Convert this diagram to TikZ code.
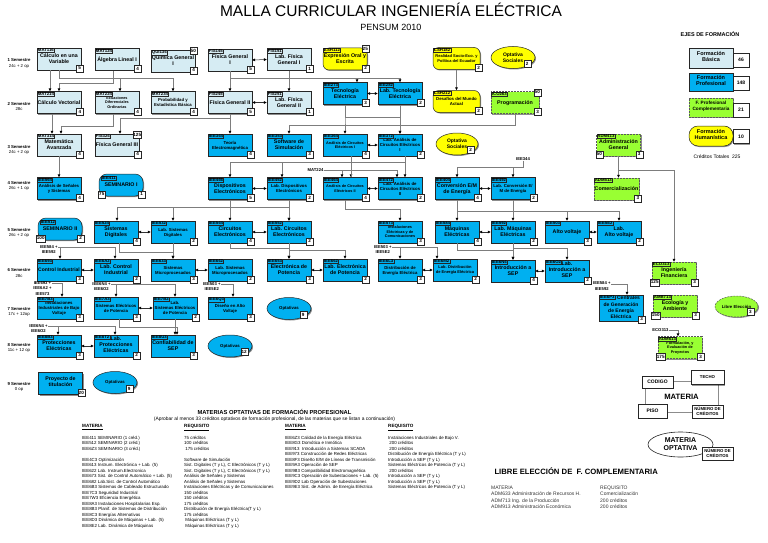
\documentclass[tikz,border=0pt]{standalone}
\usepackage{fontspec}
\setmainfont{Liberation Sans}
\usetikzlibrary{arrows.meta,shapes.geometric,shadows}
\definecolor{basica}{RGB}{214,236,243}
\definecolor{profesional}{RGB}{0,176,240}
\definecolor{complementaria}{RGB}{153,255,51}
\definecolor{humanistica}{RGB}{255,255,0}
\definecolor{linea}{RGB}{125,125,125}
\newcommand{\tam}[2]{\fontsize{#1}{#2}\selectfont}
\tikzset{
  mat/.style={draw=black!85,line width=.5pt,minimum width=44pt,minimum height=22pt,inner sep=.8pt,align=center,
    font=\tam{5.3}{6}\bfseries,drop shadow={shadow xshift=1pt,shadow yshift=-1pt,fill=black,opacity=.45}},
  caja/.style={mat,text depth=-7pt},
  uno/.style={text depth=-4.3pt},
  tres/.style={text depth=2pt},
  bas/.style={caja,fill=basica},
  pro/.style={caja,fill=profesional},
  compl/.style={caja,fill=complementaria,draw=black!65,dash pattern=on 2pt off 1pt},
  hum/.style={caja,fill=humanistica,rounded corners=6pt},
  sem/.style={pro,uno,rounded corners=8pt},
  optat/.style={mat,ellipse,fill=profesional,inner sep=0pt,font=\tam{4.3}{5}\bfseries},
  hopt/.style={optat,fill=humanistica,font=\tam{5}{6}\bfseries},
  libre/.style={optat,fill=complementaria,draw=black!65,dash pattern=on 2pt off 1pt},
  codebox/.style={anchor=north west,draw=black!85,solid,inner sep=.5pt,font=\tam{4.3}{4.4}\bfseries,xshift=.5pt,yshift=-.5pt},
  numbox/.style={anchor=center,draw=black!85,solid,fill=white,inner sep=.6pt,minimum width=7pt,minimum height=7pt,
    font=\tam{4.6}{5}\bfseries,drop shadow={shadow xshift=.8pt,shadow yshift=-.8pt,fill=black,opacity=.4}},
  cod/.style={label={[codebox]north west:#1}},
  codsem/.style={label={[codebox,xshift=2pt,yshift=-1.5pt]north west:#1}},
  cr/.style={label={[numbox,xshift=-1.5pt,yshift=2pt]south east:#1}},
  techo/.style={label={[numbox,xshift=-2pt,yshift=-1pt]north east:#1}},
  piso/.style={label={[numbox,xshift=3pt,yshift=2pt]south west:#1}},
  chico/.style={font=\tam{4.3}{5}\bfseries,text depth=-4pt},
  mini/.style={font=\tam{3.8}{4.4}\bfseries,text depth=-5pt},
  conn/.style={draw=linea,line width=.6pt},
  coreq/.style={<->,draw=black!80,line width=.5pt},
  req/.style={font=\tam{4.2}{5.4}\bfseries,align=center,inner sep=.3pt},
  semestre/.style={font=\tam{4.3}{5.4},align=center},
  legnum/.style={draw=black!85,fill=white,minimum width=16pt,minimum height=14pt,font=\tam{5}{6}\bfseries,
    drop shadow={shadow xshift=1pt,shadow yshift=-1pt,fill=black,opacity=.4}},
  legsm/.style={draw=black!85,fill=white,inner sep=.5pt,align=center,font=\tam{4.3}{4.8}\bfseries,
    drop shadow={shadow xshift=1pt,shadow yshift=-1pt,fill=black,opacity=.4}},
  lista/.style={anchor=north west,inner sep=0pt,align=left,font=\tam{4.4}{5.5}},
}
\begin{document}
\begin{tikzpicture}[x=1pt,y=-1pt,>={Triangle[length=2.8pt,width=2.6pt,color=black]}]
\useasboundingbox (0,0) rectangle (768,543);
\node[font=\tam{15.5}{17},anchor=base] (titulo) at (391,17) {MALLA CURRICULAR INGENIERÍA ELÉCTRICA};
\node[font=\tam{9}{10},anchor=base] (pensum) at (391,30.5) {PENSUM 2010};
\node[font=\tam{5.5}{6}\bfseries,anchor=base] (ejes) at (710,37) {EJES DE FORMACIÓN};

\node[semestre] (s1) at (19,63.5) {\textbf{1 Semestre}\\24c + 2 op};
\node[semestre] (s2) at (19,106.5) {\textbf{2 Semestre}\\28c};
\node[semestre] (s3) at (19,150) {\textbf{3 Semestre}\\24c + 2 op};
\node[semestre] (s4) at (19,186) {\textbf{4 Semestre}\\26c + 1 op};
\node[semestre] (s5) at (19,233) {\textbf{5 Semestre}\\26c + 2 op};
\node[semestre] (s6) at (19,273) {\textbf{6 Semestre}\\28c};
\node[semestre] (s7) at (19,312) {\textbf{7 Semestre}\\17c + 12op};
\node[semestre] (s8) at (19,348) {\textbf{8 Semestre}\\11c + 12 op};
\node[semestre] (s9) at (19,387) {\textbf{9 Semestre}\\0 op};

\node[bas,cod=MAT116,cr=5] (MAT116) at (59,59) {Cálculo en una\\Variable};
\node[bas,uno,cod=MAT124,cr=4] (MAT124) at (117,59.5) {Álgebra Lineal I};
\node[bas,cod=QUI134,cr=4,techo=50] (QUI134) at (173,61) {Química General\\I};
\node[bas,cod=FIS145,cr=5] (FIS145) at (230,60) {Física General\\I};
\node[bas,cod=FIS151,cr=1] (FIS151) at (289,59.5) {Lab. Física\\General I};
\node[hum,cod=CSH112,cr=2,techo=25] (CSH112) at (345,59) {Expresión Oral y\\Escrita};
\node[hum,chico,font=\tam{4}{5}\bfseries,minimum width=47pt,cod=CSH182,cr=2] (CSH182) at (456.5,58.5) {Realidad Socio-Eco. y\\Política del Ecuador};
\node[hopt,cr=2] (OPS1) at (513,57.5) {Optativa\\Sociales};

\node[bas,uno,cod=MAT214,cr=4] (MAT214) at (59,102.5) {Cálculo Vectorial};
\node[bas,mini,cod=MAT224,cr=4] (MAT224) at (117,102.5) {Ecuaciones\\Diferenciales\\Ordinarias};
\node[bas,chico,cod=MAT234,cr=4] (MAT234) at (173,102.5) {Probabilidad y\\Estadística Básica};
\node[bas,uno,cod=FIS245,cr=5] (FIS245) at (230,102.5) {Física General II};
\node[bas,cod=FIS251,cr=1] (FIS251) at (289,102.5) {Lab. Física\\General II};
\node[pro,cod=IEE273,cr=3] (IEE273) at (345,93.5) {Tecnología\\Eléctrica};
\node[pro,cod=IEE282,cr=2] (IEE282) at (400,93.5) {Lab. Tecnología\\Eléctrica};
\node[hum,chico,minimum width=47pt,cod=CSH212,cr=2] (CSH212) at (456.5,101.5) {Desafíos del Mundo\\Actual};
\node[compl,uno,minimum width=48pt,cod=ICO263,cr=3,techo=50] (ICO263) at (515,102.5) {Programación};

\node[bas,cod=MAT314,cr=4] (MAT314) at (59,145) {Matemática\\Avanzada};
\node[bas,uno,cod=FIS324,cr=4,techo=125] (FIS324) at (117,145) {Física General III};
\node[pro,chico,cod=IEE344,cr=4] (IEE344) at (230,145) {Teoría\\Electromagnética};
\node[pro,cod=IEE353,cr=3] (IEE353) at (289,145) {Software de\\Simulación};
\node[pro,mini,cod=IEE364,cr=4] (IEE364) at (345,145) {Análisis de Circuitos\\Eléctricos I};
\node[pro,chico,cod=IEE372,cr=2] (IEE372) at (400,145) {Lab. Análisis de\\Circuitos Eléctricos\\I};
\node[hopt,minimum width=42pt,cr=2] (OPS3) at (457,144) {Optativa\\Sociales};
\node[compl,cod=ADM413,cr=3,piso=50] (ADM413) at (618.5,145) {Administración\\General};

\node[pro,chico,cod=IEE564,cr=4] (IEE564) at (59,188.5) {Análisis de Señales\\y Sistemas};
\node[sem,codsem=IEE411,cr=1,piso=75] (IEE411) at (121,185) {SEMINARIO I};
\node[pro,cod=IEE446,cr=5] (IEE446) at (230,188.5) {Dispositivos\\Electrónicos};
\node[pro,chico,cod=IEE452,cr=2] (IEE452) at (289,188.5) {Lab. Dispositivos\\Electrónicos};
\node[pro,mini,cod=IEE464,cr=4] (IEE464) at (345,188.5) {Análisis de Circuitos\\Eléctricos II};
\node[pro,chico,cod=IEE472,cr=2] (IEE472) at (400,188.5) {Lab. Análisis de\\Circuitos Eléctricos\\II};
\node[pro,cod=IEE404,cr=4] (IEE404) at (457,188.5) {Conversión E/M\\de Energía};
\node[pro,chico,cod=IEE492,cr=2] (IEE492) at (513,188.5) {Lab. Conversión E/\\M de Energía};
\node[compl,uno,cod=ADM513,cr=3] (ADM513) at (616.5,189) {Comercialización};

\node[sem,codsem=IEE512,cr=2,piso=100] (IEE512) at (60,229) {SEMINARIO II};
\node[pro,cod=IEE524,cr=4] (IEE524) at (116,232) {Sistemas\\Digitales};
\node[pro,chico,cod=IEE532,cr=2] (IEE532) at (173,232) {Lab. Sistemas\\Digitales};
\node[pro,cod=IEE544,cr=4] (IEE544) at (230,232) {Circuitos\\Electrónicos};
\node[pro,cod=IEE552,cr=2] (IEE552) at (289,232) {Lab. Circuitos\\Electrónicos};
\node[pro,mini,cod=IEE573,cr=3] (IEE573) at (400,232) {Instalaciones\\Eléctricas y de\\Comunicaciones};
\node[pro,cod=IEE584,cr=4] (IEE584) at (457,232) {Máquinas\\Eléctricas};
\node[pro,cod=IEE592,cr=2] (IEE592) at (513,232) {Lab. Máquinas\\Eléctricas};
\node[pro,uno,cod=IEE503,cr=3] (IEE503) at (567,232) {Alto voltaje};
\node[pro,cod=IEE5E2,cr=2] (IEE5E2) at (619,232) {Lab.\\Alto voltaje};

\node[pro,uno,font=\tam{5}{6}\bfseries,cod=IEE693,cr=3] (IEE693) at (59,270) {Control Industrial};
\node[pro,cod=IEE6A2,cr=2] (IEE6A2) at (116,270) {Lab. Control\\Industrial};
\node[pro,chico,cod=IEE633,cr=3] (IEE633) at (173,270) {Sistemas\\Microprocesados};
\node[pro,chico,cod=IEE642,cr=2] (IEE642) at (230,270) {Lab. Sistemas\\Microprocesados};
\node[pro,cod=IEE653,cr=3] (IEE653) at (289,270) {Electrónica de\\Potencia};
\node[pro,cod=IEE662,cr=2] (IEE662) at (345,270) {Lab. Electrónica\\de Potencia};
\node[pro,chico,cod=IEE6L3,cr=3] (IEE6L3) at (400,270) {Distribución de\\Energía Eléctrica};
\node[pro,chico,font=\tam{4}{5}\bfseries,cod=IEE6M2,cr=2] (IEE6M2) at (455,270) {Lab. Distribución\\de Energía Eléctrica};
\node[pro,cod=IEE6N4,cr=4] (IEE6N4) at (513,271) {Introducción a\\SEP};
\node[pro,tres,cod=IEE6O2,cr=2] (IEE6O2) at (567,271) {Lab.\\Introducción a\\SEP};
\node[compl,cod=ECO313,cr=3,piso=125] (ECO313) at (674,273) {Ingeniería\\Financiera};

\node[pro,chico,cod=IEE7B3,cr=3] (IEE7B3) at (59,308) {Instalaciones\\Industriales de Bajo\\Voltaje};
\node[pro,chico,cod=IEE7A3,cr=3] (IEE7A3) at (116,308) {Sistemas Eléctricos\\de Potencia};
\node[pro,chico,cod=IEE7B2,cr=2] (IEE7B2) at (175,308) {Lab.\\Sistemas Eléctricos\\de Potencia};
\node[pro,chico,cod=IEE6Q3,cr=3] (IEE6Q3) at (230,308) {Diseño en Alto\\Voltaje};
\node[optat,cr=9] (OPT7) at (289,308.5) {Optativas};
\node[pro,font=\tam{5}{6.3}\bfseries,text depth=1pt,minimum height=26pt,cod=IEE6P3,cr=3] (IEE6P3) at (621,308) {\hspace*{15pt}Centrales\\de Generación\\de Energía\\Eléctrica};
\node[compl,cod=AMB713,cr=3,piso=150] (AMB713) at (675,306) {Ecología y\\Ambiente};
\node[libre,minimum width=43pt,minimum height=21pt,cr=3] (LIBRE) at (736.5,306.5) {Libre Elección};

\node[pro,cod=IEE8B3,cr=3] (IEE8B3) at (59,346) {Protecciones\\Eléctricas};
\node[pro,tres,cod=IEE8T2,cr=2] (IEE8T2) at (116,346) {Lab.\\Protecciones\\Eléctricas};
\node[pro,cod=IEE8U3,cr=3] (IEE8U3) at (173,346) {Confiabilidad de\\SEP};
\node[optat,cr=12] (OPT8) at (230,346) {Optativas};
\node[compl,mini,cod=ADM613,cr=3,piso=175] (ADM613) at (680,347.5) {Formulación, y\\Evaluación de\\Proyectos};

\node[pro,text depth=3pt,cr=20] (PROY) at (60.5,383.5) {Proyecto de\\titulación};
\node[optat,cr=9] (OPT9) at (115,382.5) {Optativas};

\foreach \a/\b in {FIS145/FIS151,FIS245/FIS251,IEE273/IEE282,IEE364/IEE372,IEE446/IEE452,IEE464/IEE472,
  IEE404/IEE492,IEE524/IEE532,IEE544/IEE552,IEE584/IEE592,IEE503/IEE5E2,IEE693/IEE6A2,IEE633/IEE642,
  IEE653/IEE662,IEE6L3/IEE6M2,IEE6N4/IEE6O2,IEE7A3/IEE7B2,IEE8B3/IEE8T2}
  \draw[coreq] (\a.east) -- (\b.west);

\draw[conn,->] ([xshift=-9pt]MAT116.south) -- ([xshift=-9pt]MAT214.north);
\draw[conn,->] (MAT116.south) -- ++(0,8) -| ([xshift=3pt]MAT224.north);
\draw[conn,->] (MAT116.south) -- ++(0,8) -| (MAT234.north);
\draw[conn,->] ([xshift=-4pt]MAT124.south) -- ++(0,13) -| (MAT214.north);
\draw[conn,->] (FIS145.south) -- (FIS245.north);
\draw[conn,->] (FIS145.south) -- ++(0,7) -| ([xshift=12pt]IEE273.north);
\draw[conn,->] (FIS145.south) -- ++(0,7) -| (IEE282.north);
\draw[conn,->] (FIS151.south) -- (FIS251.north);
\draw[conn,->] (CSH182.south) -- (CSH212.north);

\draw[conn,->] ([xshift=-7pt]MAT214.south) -- ([xshift=-7pt]MAT314.north);
\draw[conn,->] ([xshift=-4pt]MAT224.south) -- ++(0,13) -| ([xshift=2pt]MAT314.north);
\draw[conn,->] (FIS245.south) -- (IEE344.north);
\draw[conn,->] (FIS245.south) -- ++(0,5) -| ([xshift=3pt]FIS324.north);
\draw[conn,->] (ICO263.south) -- ++(0,12) -| (IEE353.north);
\draw[conn,->] (IEE273.south) -- ++(0,13) -| (IEE364.north);
\draw[conn,->] (IEE273.south) -- ++(0,13) -| (IEE372.north);
\draw[conn,->] (IEE282.south) -- (IEE372.north);

\draw[conn,->] (MAT314.south) -- (IEE564.north);
\draw[conn,->] ([xshift=6pt]IEE364.south) -- ++(0,6) -| (IEE446.north);
\draw[conn,->] ([xshift=6pt]IEE364.south) -- ++(0,6) -| ([xshift=-7pt]IEE452.north);
\draw[conn,->] ([xshift=6pt]IEE364.south) -- ([xshift=6pt]IEE464.north);
\draw[conn,->] ([xshift=5pt]IEE372.south) -- ([xshift=5pt]IEE472.north);
\draw[conn] ([xshift=5pt]IEE372.south) -- ++(0,6) -| ([xshift=6pt]IEE464.north);
\node[req,anchor=east] (rMAT224) at (324,170) {MAT224};
\draw[conn,->] (rMAT224.east) -| ([xshift=-3pt]IEE464.north);
\draw[conn,->] (rMAT224.east) -| ([xshift=-3pt]IEE472.north);
\node[req] (rIEE344) at (523,159) {IEE344};
\draw[conn,->] (rIEE344.south) -- ++(0,6) -| (IEE404.north);
\draw[conn,->] (rIEE344.south) -- ++(0,6) -| (IEE492.north);
\draw[conn,->] (ADM413.south) -- (ADM413.south |- ADM513.north);
\draw[conn,->] (ADM413.south) -- ++(0,14) -| (ECO313.north);

\draw[conn,->] (IEE446.south) -- ++(0,8) -| ([xshift=1pt]IEE524.north);
\draw[conn,->] (IEE446.south) -- ++(0,8) -| (IEE532.north);
\draw[conn,->] (IEE446.south) -- (IEE544.north);
\draw[conn,->] (IEE446.south) -- ++(0,8) -| (IEE552.north);
\draw[conn,->] (IEE452.south) -- (IEE552.north);
\draw[conn,->] (IEE464.south) -- ++(0,10) -| (IEE573.north);
\draw[conn,->] (IEE404.south) -- (IEE584.north);
\draw[conn,->] (IEE404.south) -- ++(0,12) -| (IEE503.north);
\draw[conn,->] (IEE404.south) -- ++(0,12) -| (IEE5E2.north);
\draw[conn,->] (IEE492.south) -- (IEE592.north);

\draw[conn,->] ([xshift=3pt]IEE524.south) -- ++(0,9) -| (IEE633.north);
\draw[conn,->] (IEE532.south) -- (IEE633.north);
\draw[conn,->] (IEE544.south) -- ++(0,5) -| (IEE653.north);
\draw[conn,->] (IEE552.south) -- (IEE653.north);
\draw[conn,->] (IEE552.south) -- ++(0,7) -| (IEE662.north);
\draw[conn,->] (IEE584.south) -- ++(0,7) -| (IEE6N4.north);
\draw[conn,->] (IEE592.south) -- (IEE6N4.north);
\draw[conn,->] (IEE592.south) -- ++(0,5) -| (IEE6O2.north);
\node[req,anchor=north east] (r6a) at (58,245) {IEE584 +\\IEE592};
\draw[conn,->] ([yshift=-2.7pt]r6a.north east) -| ([xshift=1pt]IEE693.north);
\draw[conn,->] ([yshift=-2.7pt]r6a.north east) -| ([xshift=-1pt]IEE6A2.north);
\node[req,anchor=north east] (r6b) at (392,245) {IEE503 +\\IEE5E2};
\draw[conn,->] ([yshift=-2.7pt]r6b.north east) -| (IEE6L3.north);
\draw[conn,->] ([yshift=-2.7pt]r6b.north east) -| ([xshift=-18pt]IEE6M2.north);

\node[req,anchor=north east] (r7a) at (52,281) {IEE693 +\\IEE6A2 +\\IEE573};
\draw[conn,->] ([yshift=-2.7pt]r7a.north east) -| ([xshift=3pt]IEE7B3.north);
\node[req,anchor=north east] (r7b) at (111,282) {IEE6N4 +\\IEE6O2};
\draw[conn,->] ([yshift=-2.7pt]r7b.north east) -| (IEE7A3.north);
\draw[conn,->] ([yshift=-2.7pt]r7b.north east) -| (IEE7B2.north);
\node[req,anchor=north east] (r7c) at (221,282) {IEE503 +\\IEE5E2};
\draw[conn,->] ([yshift=-2.7pt]r7c.north east) -| ([xshift=3pt]IEE6Q3.north);
\node[req,anchor=north east] (r7d) at (611,281.5) {IEE584 +\\IEE592};
\draw[conn,->] ([yshift=-2.7pt]r7d.north east) -| ([xshift=6pt]IEE6P3.north);

\node[req,anchor=north east] (r8a) at (48,324) {IEE6N4 +\\IEE6O2};
\draw[conn,->] ([yshift=-2.7pt]r8a.north east) -| ([xshift=-1pt]IEE8B3.north);
\draw[conn,->] ([yshift=-2.7pt]r8a.north east) -| ([xshift=-1pt]IEE8T2.north);
\draw[conn,->] ([xshift=3pt]IEE7A3.south) -- ++(0,8) -| ([xshift=4pt]IEE8U3.north);
\draw[conn,->] (IEE7B2.south) -- (IEE7B2.south |- IEE8U3.north);
\node[req,anchor=east] (r8b) at (669,330) {ECO313};
\draw[conn,->] (r8b.east) -| ([xshift=-2pt]ADM613.north);

\node[bas,text depth=3pt,minimum height=20pt,font=\tam{5.5}{6.6}\bfseries] (legBas) at (711,58) {Formación\\Básica};
\node[legnum] (numBas) at (741,60) {46};
\node[pro,text depth=3pt,minimum height=18pt,font=\tam{5.5}{6.6}\bfseries] (legPro) at (711,82) {Formación\\Profesional};
\node[legnum] (numPro) at (741,83) {148};
\node[compl,text depth=3pt,minimum height=19pt,font=\tam{4.7}{5.6}\bfseries] (legCom) at (711,107.5) {F. Profesional\\Complementaria};
\node[legnum] (numCom) at (741,110) {21};
\node[hum,text depth=3pt,rounded corners=9pt,minimum height=20pt,font=\tam{5.5}{6.6}\bfseries] (legHum) at (711,136) {Formación\\Humanística};
\node[legnum] (numHum) at (741,136.5) {10};
\node[font=\tam{5}{6}] (total) at (717,157) {Créditos Totales\ \ 225};

\node[draw=black!45,line width=.8pt,minimum width=73pt,minimum height=31pt,inner sep=0pt,font=\tam{7.7}{8}\bfseries] (leyMat) at (681.5,396.5) {MATERIA};
\node[legsm,minimum width=31pt,minimum height=12pt,font=\tam{5}{5}\bfseries] (leyCod) at (657.5,382) {CODIGO};
\node[legsm,minimum width=33pt,minimum height=14pt] (leyTecho) at (707.5,377.5) {TECHO};
\node[legsm,minimum width=29pt,minimum height=14pt,font=\tam{5}{5}\bfseries] (leyPiso) at (652.5,411) {PISO};
\node[legsm,minimum width=31pt,minimum height=13pt] (leyNum) at (707.5,411.5) {NÚMERO DE\\CRÉDITOS};
\node[ellipse,draw=black!85,line width=.6pt,minimum width=65pt,minimum height=25pt,inner sep=0pt,align=center,font=\tam{7}{8}\bfseries] (leyOpt) at (680.5,444.5) {MATERIA\\OPTATIVA};
\node[legsm,minimum width=31pt,minimum height=13pt] (leyNum2) at (717.5,453.5) {NÚMERO DE\\CRÉDITOS};

\node[font=\tam{5.8}{6}\bfseries,anchor=base] (optTit) at (274.5,414) {MATERIAS OPTATIVAS DE FORMACIÓN PROFESIONAL};
\node[font=\tam{4.9}{5.5},anchor=base] (optSub) at (274.5,420.5) {(Aprobar al menos 33 créditos optativos de formación profesional, de las materias que se listan a continuación)};
\node[lista,font=\tam{4.6}{5.5}\bfseries] (cabMat1) at (82,424.5) {\underline{MATERIA}};
\node[lista,font=\tam{4.6}{5.5}\bfseries] (cabReq1) at (184,424.5) {\underline{REQUISITO}};
\node[lista,font=\tam{4.6}{5.5}\bfseries] (cabMat2) at (285,424.5) {\underline{MATERIA}};
\node[lista,font=\tam{4.6}{5.5}\bfseries] (cabReq2) at (388,424.5) {\underline{REQUISITO}};
\node[lista] (mat1) at (82,436) {IEE411 SEMINARIO (1 créd.)\\IEE512 SEMINARIO (2 créd.)\\IEE6Z3 SEMINARIO (3 créd.)\\[5.5pt]
IEE4C3 Optimización\\IEE613 Instrum. Electrónica + Lab. (5)\\IEE622 Lab. Instrum.Electronica\\
IEE673 Sist. de Control Automático + Lab. (5)\\IEE682 Lab.Sist. de Control Automático\\
IEE6B3 Sistemas de Cableado Estructurado\\IEE7C3 Seguridad Industrial\\IEE7W3 Eficiencia Energética\\
IEE8A3 Instalaciones Hospitalarias Esp.\\IEE8B3 Planif. de Sistemas de Distribución\\IEE8C3 Energías Alternativas\\
IEE8D3 Dinámica de Máquinas + Lab. (5)\\IEE8E2 Lab. Dinámica de Máquinas};
\node[lista] (req1) at (184,436) {75 créditos\\100 créditos\\\ 175 créditos\\[5.5pt]
Software de Simulación\\Sist. Digitales (T y L), C Electrónicos (T y L)\\Sist. Digitales (T y L), C Electrónicos (T y L)\\
Análisis de Señales y Sistemas\\Análisis de Señales y Sistemas\\Instalaciones Eléctricas y de Comunicaciones\\
150 créditos\\150 créditos\\175 créditos\\Distribución de Energía Eléctrica(T y L)\\175 créditos\\
\ Máquinas Eléctricas (T y L)\\\ Máquinas Eléctricas (T y L)};
\node[lista] (mat2) at (285,436) {IEE6Z3 Calidad de la Energía Eléctrica\\IEE8G3 Domótica e Inmótica\\IEE913\ \ Introducción a Sistemas SCADA\\
IEE973 Construcción de Redes Eléctricas\\IEE8F3 Diseño E/M de Líneas de Transmisión\\IEE9A3 Operación de SEP\\
IEE9B3 Compatibilidad Electromagnética\\IEE9C3 Operación de Subestaciones + Lab. (5)\\IEE9D2 Lab Operación de Subestaciones\\
IEE9E3 Sist. de Admin. de Energía Eléctrica};
\node[lista] (req2) at (388,436) {Instalaciones Industriales de Bajo V.\\\ 200 créditos\\\ 200 créditos\\
Distribución de Energía Eléctrica (T y L)\\Introducción a SEP (T y L)\\Sistemas Eléctricos de Potencia (T y L)\\
\ 200 créditos\\Introducción a SEP (T y L)\\Introducción a SEP (T y L)\\Sistemas Eléctricos de Potencia (T y L)};

\node[font=\tam{7.7}{9}\bfseries,anchor=base west] (libreTit) at (491,474.5) {LIBRE ELECCIÓN DE\ \ F. COMPLEMENTARIA};
\node[lista,font=\tam{5}{6.3},text=black!80] (libreMat) at (491,486) {MATERIA\\ADM633 Administración de Recursos H.\\ADM713 Ing. de la Producción\\ADM913 Administración Económica};
\node[lista,font=\tam{5}{6.3},text=black!80] (libreReq) at (600,486) {REQUISITO\\Comercialización\\200 créditos\\200 créditos};
\end{tikzpicture}
\end{document}
